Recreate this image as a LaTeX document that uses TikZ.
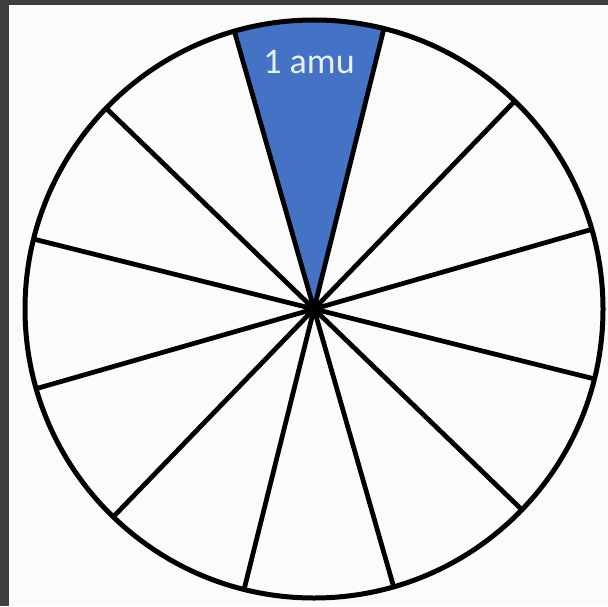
\documentclass[tikz,border=0pt]{standalone}
\usepackage{fontspec}
\setsansfont{Carlito}
\usepackage{xcolor}
\definecolor{cFrame}{RGB}{62,62,62}
\definecolor{cPaper}{RGB}{251,251,250}
\definecolor{cSlice}{RGB}{68,114,196}
\definecolor{cLabel}{RGB}{232,240,250}
\begin{document}
\begin{tikzpicture}[
    x=0.02cm, y=0.02cm,
    spoke/.style={line width=0.095cm,black,line cap=round},
    rim/.style={line width=0.1cm,black},
    label/.style={font=\sffamily\fontsize{20.5}{24}\selectfont,text=cLabel,inner sep=0pt}
  ]
  % Frame and paper
  \fill[cFrame] (0,0) rectangle (608,606);
  \fill[cPaper] (9,0) rectangle (608,601);
  \useasboundingbox (0,0) rectangle (608,606);
  % Centre
  \coordinate (ctr) at (314,297);
  % Shaded slice
  \fill[cSlice] (ctr) -- ++(106:289) arc[start angle=106,end angle=76,radius=289] -- cycle;
  % Spokes
  \foreach \a in {16,46,...,346} {
    \draw[spoke] (ctr) -- ++(\a:289);
  }
  \draw[rim] (ctr) circle[radius=289];
  \fill (ctr) circle[radius=7];
  % Label
  \node[label] (amu) at (309,544) {1 amu};
\end{tikzpicture}
\end{document}
